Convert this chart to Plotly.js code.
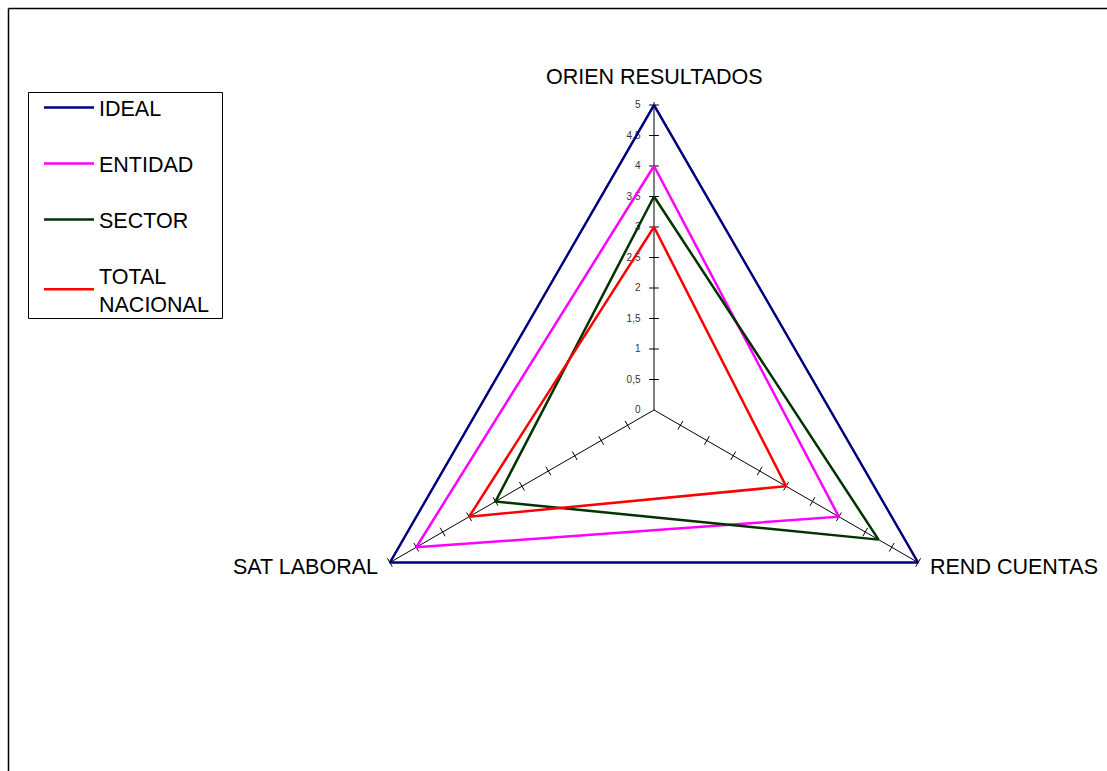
<!DOCTYPE html>
<html>
<head>
<meta charset="utf-8">
<script src="https://cdn.plot.ly/plotly-3.0.1.min.js"></script>
<style>html,body{margin:0;padding:0;background:#fff;}#chart{width:1107px;height:771px;}</style>
</head>
<body>
<div id="chart"></div>
<script>
var categories = ["ORIEN RESULTADOS", "REND CUENTAS", "SAT LABORAL"];
var seriesNames = ["IDEAL", "ENTIDAD", "SECTOR", "TOTAL<br>NACIONAL"];
var ideal = [5, 5, 5];
var entidad = [4, 3.5, 4.5];
var sector = [3.5, 4.25, 3];
var totalNacional = [3, 2.5, 3.5];
var radialTicks = [0, 0.5, 1, 1.5, 2, 2.5, 3, 3.5, 4, 4.5, 5];
var spokeTickAngles = [0, 120, 60];

var seriesValues = [ideal, entidad, sector, totalNacional];
var seriesColors = ["#000080", "#FF00FF", "#003300", "#FF0000"];

function closeLoop(a) { return a.concat([a[0]]); }

var rTop = radialTicks[radialTicks.length - 1];
var tickR = [], tickTheta = [], tickAng = [];
categories.forEach(function (c, i) {
  radialTicks.slice(1).forEach(function (t) {
    tickR.push(t); tickTheta.push(c); tickAng.push(spokeTickAngles[i]);
  });
});

// spokes for the two lower categories (top one is the radial axis line)
var spokeR = [], spokeTheta = [];
categories.slice(1).forEach(function (c) {
  spokeR.push(0, rTop, null); spokeTheta.push(c, c, null);
});

var data = [{
  type: "scatterpolar",
  mode: "lines",
  r: spokeR,
  theta: spokeTheta,
  showlegend: false,
  hoverinfo: "skip",
  line: { color: "#000", width: 1 }
}, {
  type: "scatterpolar",
  mode: "markers",
  r: tickR,
  theta: tickTheta,
  showlegend: false,
  hoverinfo: "skip",
  cliponaxis: false,
  marker: { symbol: "line-ew", size: 7, angle: tickAng, color: "#000", line: { color: "#000", width: 1 } }
}];

seriesValues.forEach(function (v, i) {
  data.push({
    type: "scatterpolar",
    mode: "lines",
    name: seriesNames[i],
    legendgroup: "g" + i,
    cliponaxis: false,
    r: closeLoop(v),
    theta: closeLoop(categories),
    line: { color: seriesColors[i], width: 2.5 }
  });
});

var W = 1107, H = 771;
var rMax = 5.05;
var R = 305 * rMax / 5;
var cx = 654, cy = 410;
var fontFam = "Arial, 'Liberation Sans', sans-serif";
var labelFont = { family: fontFam, size: 21.5, color: "#000" };
var layout = {
  width: W, height: H,
  margin: { l: 0, r: 0, t: 0, b: 0 },
  paper_bgcolor: "#fff",
  separators: ",.",
  font: { family: fontFam, color: "#000" },
  showlegend: true,
  legend: {
    x: 39 / W, y: 1 - 87 / H, xanchor: "left", yanchor: "top",
    borderwidth: 0, bgcolor: "rgba(0,0,0,0)",
    font: { size: 21.5, color: "#000" },
    traceorder: "grouped", tracegroupgap: 25,
    itemwidth: 50
  },
  polar: {
    domain: { x: [(cx - R) / W, (cx + R) / W], y: [(H - cy - R) / H, (H - cy + R) / H] },
    gridshape: "linear",
    bgcolor: "rgba(0,0,0,0)",
    radialaxis: {
      range: [0, rMax], tickvals: radialTicks, angle: 90, side: "counterclockwise",
      tickangle: 90,
      showline: true, linecolor: "#808080", linewidth: 2,
      showgrid: false, ticks: "outside", ticklen: 9, tickcolor: "rgba(0,0,0,0)",
      tickfont: { size: 10, color: "#333" },
      layer: "below traces"
    },
    angularaxis: {
      type: "category", categoryarray: categories, rotation: 90, direction: "clockwise",
      showline: false, showgrid: false,
      ticks: "", showticklabels: false,
      layer: "below traces"
    }
  },
  annotations: [
    { xref: "paper", yref: "paper", x: 654 / W, y: 1 - 77 / H, xanchor: "center", yanchor: "middle", text: categories[0], showarrow: false, font: labelFont },
    { xref: "paper", yref: "paper", x: 928 / W, y: 1 - 567 / H, xanchor: "left", yanchor: "middle", text: categories[1], showarrow: false, font: labelFont },
    { xref: "paper", yref: "paper", x: 380 / W, y: 1 - 567 / H, xanchor: "right", yanchor: "middle", text: categories[2], showarrow: false, font: labelFont }
  ],
  shapes: [
    { type: "line", xref: "paper", yref: "paper", x0: 8.5 / W, x1: 1, y0: 1 - 8.5 / H, y1: 1 - 8.5 / H, line: { color: "#000", width: 1.5 } },
    { type: "line", xref: "paper", yref: "paper", x0: 8.5 / W, x1: 8.5 / W, y0: 0, y1: 1 - 8.5 / H, line: { color: "#000", width: 1.5 } },
    { type: "rect", xref: "paper", yref: "paper", x0: 28.5 / W, x1: 222.5 / W, y0: 1 - 318.5 / H, y1: 1 - 92.5 / H, line: { color: "#000", width: 1 } }
  ]
};

Plotly.newPlot("chart", data, layout, { displayModeBar: false, staticPlot: true });
</script>
</body>
</html>
